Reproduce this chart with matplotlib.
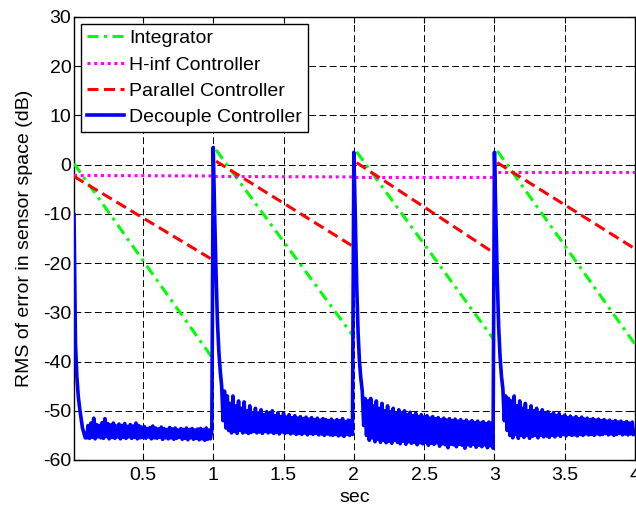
import numpy as np
import matplotlib
matplotlib.use('Agg')
import matplotlib.pyplot as plt

plt.rcParams['font.family'] = ['Liberation Sans', 'DejaVu Sans']
plt.rcParams['axes.unicode_minus'] = False

# straight-line controllers: one ramp per 1 s period
period_start = [0.01, 1.02, 2.02, 3.02]
period_end = [1.0, 2.0, 3.0, 4.0]
integ_start = [0.2, 3.0, 2.6, 2.8]
integ_end = [-39.5, -35.0, -35.7, -36.5]
par_start = [-2.4, 0.7, 0.4, 0.4]
par_end = [-19.4, -16.7, -18.0, -17.1]

# H-inf stays almost flat
hinf_t = [0.01, 1.0, 1.0, 2.0, 2.0, 3.0, 3.0, 4.0]
hinf_db = [-2.2, -2.3, -2.4, -2.5, -2.6, -2.6, -1.6, -1.6]

# decouple controller, sampled every 10 ms
dec_t = np.round(np.arange(0, 400) * 0.01, 2)
dec_db = [
    # 0 - 1 s
    -10.0, -10.0, -36.0, -43.0, -47.0, -49.5, -51.5, -53.5, -54.5, -55.5,
    -55.5, -53.0, -55.6, -52.5, -55.4, -51.5, -55.7, -52.8, -55.3, -53.0,
    -55.5, -52.4, -55.6, -51.6, -55.2, -52.6, -55.7, -52.9, -55.4, -52.5,
    -55.6, -53.1, -55.3, -52.7, -55.7, -53.0, -55.4, -52.6, -55.6, -53.2,
    -55.3, -52.8, -55.6, -53.1, -55.4, -52.5, -55.7, -53.0, -55.5, -53.3,
    -55.4, -53.2, -55.6, -53.6, -55.3, -53.4, -55.7, -53.1, -55.5, -53.5,
    -55.6, -53.7, -55.4, -53.3, -55.8, -53.6, -55.5, -53.8, -55.7, -53.4,
    -55.5, -53.7, -55.8, -53.5, -55.6, -53.9, -55.4, -53.6, -55.8, -53.8,
    -55.6, -53.5, -55.9, -53.8, -55.5, -53.6, -55.8, -53.9, -55.6, -53.7,
    -55.9, -53.6, -55.7, -53.8, -56.0, -53.5, -55.8, -53.9, -55.7, -54.0,
    # 1 - 2 s
    3.5, -10.0, -22.0, -32.0, -38.0, -42.0, -45.0, -52.0, -46.0, -53.5,
    -47.0, -54.0, -48.5, -54.5, -47.0, -54.2, -49.0, -54.6, -48.0, -54.0,
    -49.5, -54.5, -48.2, -54.3, -50.0, -54.6, -49.0, -54.4, -50.5, -54.2,
    -49.5, -54.5, -50.5, -54.3, -49.8, -54.6, -50.8, -54.2, -50.2, -54.5,
    -50.6, -54.3, -50.0, -54.6, -51.0, -54.4, -50.4, -54.7, -51.2, -54.3,
    -50.5, -54.6, -51.3, -54.4, -50.8, -54.7, -51.4, -54.5, -51.0, -54.8,
    -51.5, -54.6, -51.2, -54.8, -51.6, -54.5, -51.3, -54.9, -51.7, -54.6,
    -51.4, -54.8, -51.8, -54.6, -51.5, -54.9, -51.9, -54.7, -51.6, -55.0,
    -51.8, -54.7, -52.0, -54.9, -51.7, -55.0, -52.1, -54.8, -51.8, -55.1,
    -52.0, -54.9, -51.6, -55.2, -52.2, -54.8, -51.9, -55.0, -52.0, -54.8,
    # 2 - 3 s
    2.5, -10.0, -24.0, -34.0, -40.0, -43.5, -46.0, -53.0, -47.5, -55.0,
    -48.0, -56.0, -47.5, -55.5, -49.0, -56.3, -48.0, -55.8, -49.5, -56.4,
    -48.5, -56.0, -50.0, -56.5, -49.0, -56.2, -50.2, -56.6, -49.5, -56.0,
    -50.5, -56.4, -49.8, -56.7, -50.6, -56.2, -50.0, -56.8, -50.8, -56.3,
    -50.3, -56.6, -51.0, -56.4, -50.5, -56.9, -51.2, -56.5, -50.8, -56.7,
    -51.3, -56.4, -51.0, -57.0, -51.5, -56.6, -51.2, -56.8, -51.6, -56.5,
    -51.4, -57.2, -51.8, -56.7, -51.5, -56.9, -51.9, -57.5, -51.6, -56.8,
    -52.0, -56.9, -51.7, -57.3, -52.1, -56.8, -51.8, -57.0, -52.2, -57.6,
    -51.9, -56.9, -52.3, -57.2, -52.0, -56.8, -52.4, -57.4, -52.1, -57.0,
    -52.5, -57.3, -52.2, -56.9, -52.6, -57.5, -52.3, -57.1, -52.5, -57.6,
    # 3 - 4 s
    2.5, -10.0, -23.0, -33.0, -39.0, -43.0, -45.5, -52.0, -47.0, -54.0,
    -47.5, -55.0, -48.0, -55.5, -47.0, -54.8, -49.0, -55.6, -48.0, -55.0,
    -49.5, -55.4, -48.5, -55.0, -50.0, -55.6, -49.0, -55.2, -50.0, -55.0,
    -49.5, -55.5, -50.5, -55.0, -49.8, -55.3, -50.6, -55.1, -50.2, -55.4,
    -50.8, -55.0, -50.4, -55.3, -51.0, -54.9, -50.6, -55.2, -51.2, -54.8,
    -50.9, -55.1, -51.4, -54.8, -51.1, -55.0, -51.5, -54.9, -51.2, -55.1,
    -51.6, -54.8, -51.3, -55.0, -51.7, -54.7, -51.5, -54.9, -51.8, -54.8,
    -51.6, -55.0, -51.9, -54.7, -51.7, -54.9, -52.0, -54.8, -51.8, -54.6,
    -52.1, -54.9, -51.9, -54.7, -52.2, -55.0, -52.0, -54.8, -52.3, -54.6,
    -52.1, -54.9, -52.4, -54.7, -52.2, -54.9, -52.5, -54.7, -52.3, -54.8,
]

fig = plt.figure(figsize=(6.36, 5.08), dpi=100)
ax = fig.add_axes([0.1164, 0.0945, 0.8821, 0.8721])

for i in range(4):
    ax.plot([period_start[i], period_end[i]], [integ_start[i], integ_end[i]],
            color='#00ff00', lw=2.2, linestyle=(0, (3.6, 1.8, 1, 1.8)),
            label='Integrator' if i == 0 else None, zorder=3)
ax.plot(hinf_t, hinf_db, color='#ff00ff', lw=2.2, linestyle=(0, (1, 1.2)),
        label='H-inf Controller', zorder=3)
for i in range(4):
    ax.plot([period_start[i], period_end[i]], [par_start[i], par_end[i]],
            color='#ff0000', lw=2.2, linestyle=(0, (3.6, 1.8)),
            label='Parallel Controller' if i == 0 else None, zorder=3)
ax.plot(dec_t, dec_db, color='#0000ff', lw=2.6, label='Decouple Controller', zorder=4)

ax.set_xlim(0.01, 4)
ax.set_ylim(-60, 30)
ax.set_xticks([0.5, 1, 1.5, 2, 2.5, 3, 3.5, 4])
ax.set_xticklabels(['0.5', '1', '1.5', '2', '2.5', '3', '3.5', '4'])
ax.set_yticks(np.arange(-60, 31, 10))
ax.grid(True, color='black', linestyle=(0, (7, 3.5)), lw=0.7)
ax.tick_params(direction='in', length=4, labelsize=14, top=True, right=True)
ax.tick_params(axis='x', pad=5)
ax.tick_params(axis='y', pad=2)
for s in ax.spines.values():
    s.set_linewidth(1)

ax.set_xlabel('sec', fontsize=14, labelpad=4)
ax.set_ylabel('RMS of error in sensor space (dB)', fontsize=14, labelpad=7)

leg = ax.legend(loc='upper left', fontsize=14, handlelength=1.9, handletextpad=0.3,
                borderpad=0.3, labelspacing=0.45, borderaxespad=0.35,
                fancybox=False, framealpha=1, edgecolor='black')
leg.get_frame().set_linewidth(1)

plt.savefig('out.png', dpi=100)
plt.close()
